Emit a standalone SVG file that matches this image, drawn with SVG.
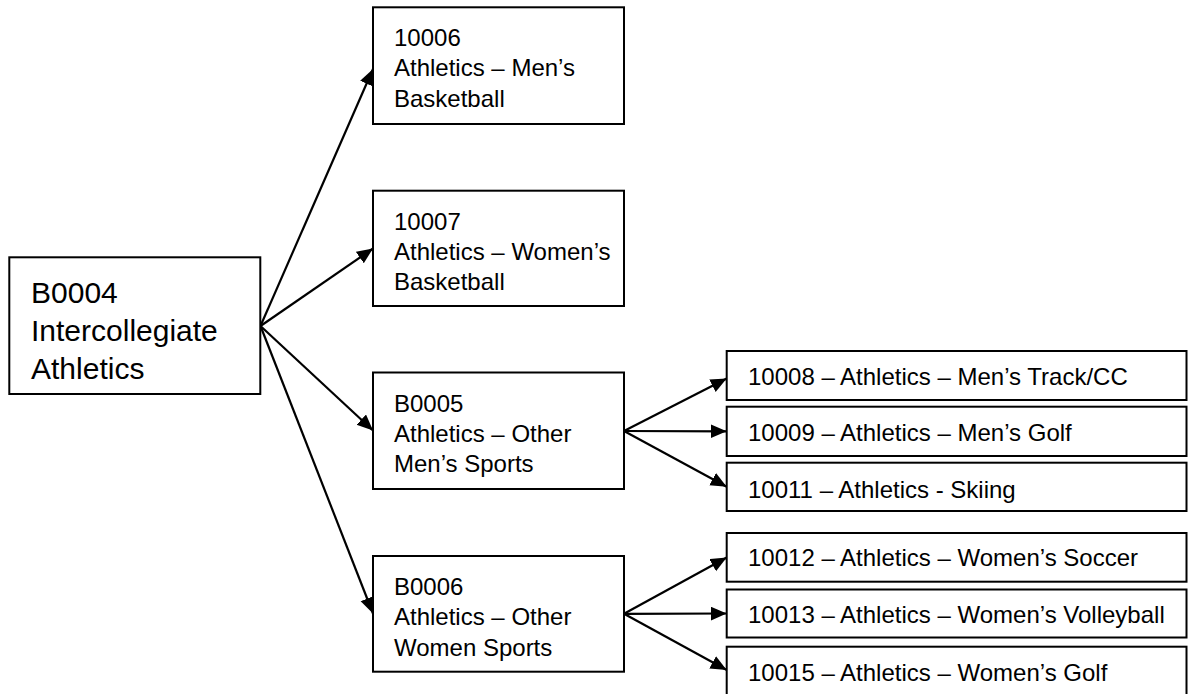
<svg xmlns="http://www.w3.org/2000/svg" width="1188" height="694" viewBox="0 0 1188 694">
  <style>
    .box { fill: #ffffff; stroke: #000000; stroke-width: 2; }
    .lbl { font-family: "Liberation Sans", Arial, sans-serif; font-size: 24px; fill: #000000; }
    .big { font-size: 30px; }
    .conn { stroke: #000000; stroke-width: 2.2; fill: none; marker-end: url(#arrow); }
  </style>
  <defs>
    <marker id="arrow" markerUnits="userSpaceOnUse" markerWidth="17" markerHeight="15" refX="16" refY="7" orient="auto">
      <path d="M0,0 L16,7 L0,14 Z" fill="#000000"/>
    </marker>
  </defs>
  <rect width="1188" height="694" fill="#ffffff"/>

  <g id="connectors">
    <line class="conn" x1="260.5" y1="326" x2="373" y2="69"/>
    <line class="conn" x1="260.5" y1="326" x2="373" y2="248.5"/>
    <line class="conn" x1="260.5" y1="326" x2="373" y2="430.5"/>
    <line class="conn" x1="260.5" y1="326" x2="373" y2="613.5"/>
    <line class="conn" x1="624" y1="431" x2="726.7" y2="378.5"/>
    <line class="conn" x1="624" y1="431" x2="726.7" y2="431.3"/>
    <line class="conn" x1="624" y1="431" x2="726.7" y2="486.8"/>
    <line class="conn" x1="624" y1="613.8" x2="726.7" y2="557.5"/>
    <line class="conn" x1="624" y1="613.8" x2="726.7" y2="613.5"/>
    <line class="conn" x1="624" y1="613.8" x2="726.7" y2="670"/>
  </g>

  <g id="node-B0004">
    <rect class="box" x="9.3" y="257.3" width="251" height="136.7"/>
    <text class="lbl big" x="31" y="303">B0004</text>
    <text class="lbl big" x="31" y="340.5">Intercollegiate</text>
    <text class="lbl big" x="31" y="378.5">Athletics</text>
  </g>

  <g id="node-10006">
    <rect class="box" x="373" y="7.3" width="251" height="116.7"/>
    <text class="lbl" x="394" y="46">10006</text>
    <text class="lbl" x="394" y="76">Athletics – Men’s</text>
    <text class="lbl" x="394" y="106.5">Basketball</text>
  </g>

  <g id="node-10007">
    <rect class="box" x="373" y="190.7" width="251" height="115.3"/>
    <text class="lbl" x="394" y="229.5">10007</text>
    <text class="lbl" x="394" y="259.5">Athletics – Women’s</text>
    <text class="lbl" x="394" y="290">Basketball</text>
  </g>

  <g id="node-B0005">
    <rect class="box" x="373" y="372.5" width="251" height="116.5"/>
    <text class="lbl" x="394" y="411.5">B0005</text>
    <text class="lbl" x="394" y="441.5">Athletics – Other</text>
    <text class="lbl" x="394" y="472">Men’s Sports</text>
  </g>

  <g id="node-B0006">
    <rect class="box" x="373" y="556" width="251" height="115.7"/>
    <text class="lbl" x="394" y="595">B0006</text>
    <text class="lbl" x="394" y="625">Athletics – Other</text>
    <text class="lbl" x="394" y="655.5">Women Sports</text>
  </g>

  <g id="node-10008">
    <rect class="box" x="726.7" y="351" width="459.8" height="49"/>
    <text class="lbl" x="748" y="384.5">10008 – Athletics – Men’s Track/CC</text>
  </g>
  <g id="node-10009">
    <rect class="box" x="726.7" y="406.7" width="459.8" height="49.3"/>
    <text class="lbl" x="748" y="441">10009 – Athletics – Men’s Golf</text>
  </g>
  <g id="node-10011">
    <rect class="box" x="726.7" y="462.7" width="459.8" height="48.3"/>
    <text class="lbl" x="748" y="497.5">10011 – Athletics - Skiing</text>
  </g>
  <g id="node-10012">
    <rect class="box" x="726.7" y="533" width="459.8" height="48.7"/>
    <text class="lbl" x="748" y="566">10012 – Athletics – Women’s Soccer</text>
  </g>
  <g id="node-10013">
    <rect class="box" x="726.7" y="589.5" width="459.8" height="48"/>
    <text class="lbl" x="748" y="623">10013 – Athletics – Women’s Volleyball</text>
  </g>
  <g id="node-10015">
    <rect class="box" x="726.7" y="646.7" width="459.8" height="60"/>
    <text class="lbl" x="748" y="680.5">10015 – Athletics – Women’s Golf</text>
  </g>
</svg>
